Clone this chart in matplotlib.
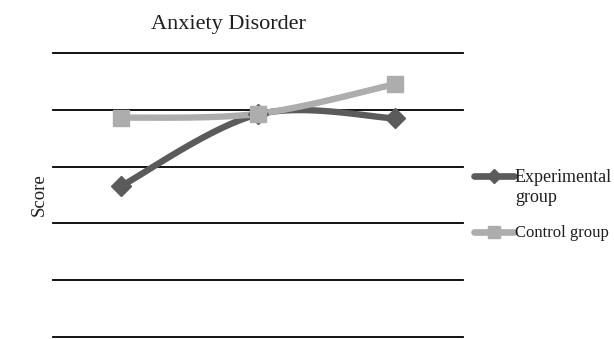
import numpy as np
import matplotlib
matplotlib.use("Agg")
import matplotlib.pyplot as plt
from matplotlib.lines import Line2D

# ---- data ----
categories = ["Pre-test", "Post-test", "Follow-up"]
experimental = [26.6, 39.2, 38.5]
control = [38.6, 39.3, 44.5]
series_names = ["Experimental\ngroup", "Control group"]
title = "Anxiety Disorder"
ylabel = "Score"
y_ticks = [0, 10, 20, 30, 40, 50]

FONT = "Liberation Serif"
DARK = "#5b5b5b"
LIGHT = "#adadad"
TXT = "#1e1e1e"


def smooth(xs, ys, n=40):
    """Excel-like smoothed line (Catmull-Rom as cubic Bezier)."""
    P = np.column_stack([xs, ys]).astype(float)
    P = np.vstack([P[0], P, P[-1]])
    out = []
    for i in range(1, len(P) - 2):
        p0, p1, p2, p3 = P[i - 1], P[i], P[i + 1], P[i + 2]
        b1 = p1 + (p2 - p0) / 6.0
        b2 = p2 - (p3 - p1) / 6.0
        t = np.linspace(0, 1, n)[:, None]
        seg = ((1 - t) ** 3) * p1 + 3 * ((1 - t) ** 2) * t * b1 + 3 * (1 - t) * t ** 2 * b2 + t ** 3 * p2
        out.append(seg if i == 1 else seg[1:])
    c = np.vstack(out)
    return c[:, 0], c[:, 1]


W, H = 614, 339
fig = plt.figure(figsize=(W / 100, H / 100), dpi=100)
ax = fig.add_axes([53 / W, 1 - 337 / H, (463 - 53) / W, (337 - 53) / H])

x = np.arange(len(categories))
styles = [
    (experimental, DARK, "D", 10),
    (control, LIGHT, "s", 11.5),
]
for vals, col, mk, ms in styles:
    sx, sy = smooth(x, vals)
    ax.plot(sx, sy, color=col, lw=4.6, solid_capstyle="round", zorder=3)
    ax.plot(x, vals, ls="none", marker=mk, ms=ms, color=col, mec=col, zorder=4)

ax.set_xlim(-0.5, len(categories) - 0.5)
ax.set_ylim(y_ticks[0], y_ticks[-1])
for v in y_ticks:
    ax.axhline(v, color="black", lw=1.3, zorder=1, clip_on=False)
ax.set_xticks([])
ax.set_yticks([])
for s in ax.spines.values():
    s.set_visible(False)
ax.patch.set_alpha(0)

fig.text(228 / W, 1 - 24 / H, title, ha="center", va="center",
         fontsize=16, family=FONT, color=TXT)
fig.text(39 / W, 1 - 195 / H, ylabel, ha="center", va="center",
         rotation=90, fontsize=13.5, family=FONT, color=TXT)

# legend (handles aligned with first text line, as in the reference)
leg_y = [176, 232]
leg_marker = [("D", 7, DARK), ("s", 8.5, LIGHT)]
leg_size = [13, 12]
for name, yy, (mk, ms, col), fs in zip(series_names, leg_y, leg_marker, leg_size):
    yf = 1 - yy / H
    fig.add_artist(Line2D([474 / W, 514 / W], [yf, yf], transform=fig.transFigure,
                          color=col, lw=4.8, solid_capstyle="round"))
    fig.add_artist(Line2D([494 / W], [yf], transform=fig.transFigure,
                          ls="none", marker=mk, ms=ms, color=col, mec=col))
    fig.text(515 / W, 1 - (yy - 7) / H, name, ha="left", va="top", fontsize=fs,
             family=FONT, color=TXT, linespacing=1.25)

fig.savefig("out.png", dpi=100)
